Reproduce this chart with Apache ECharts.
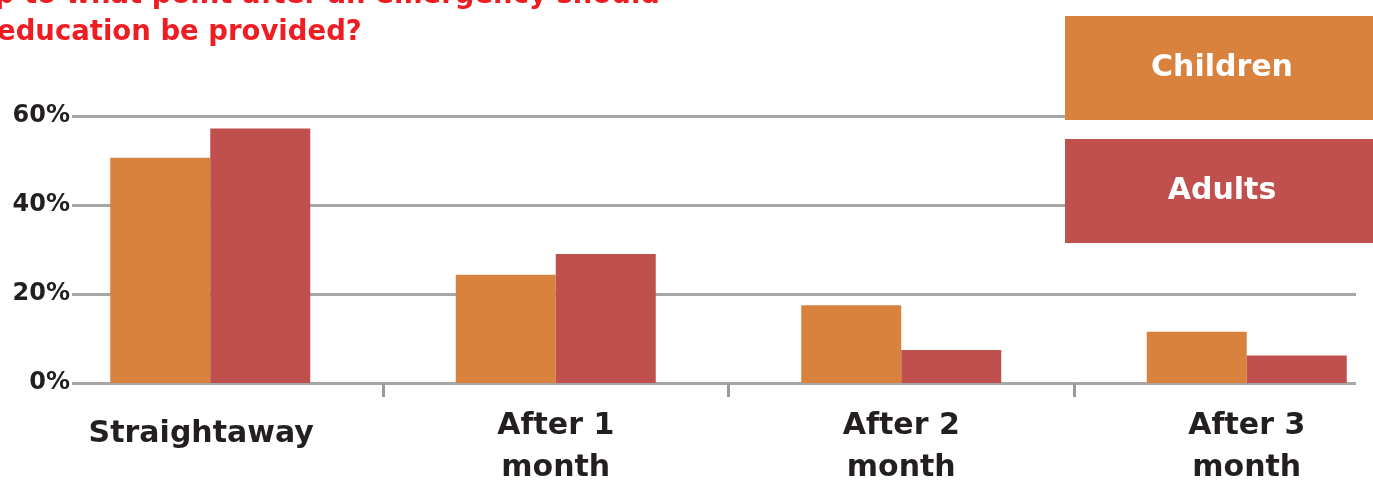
<!DOCTYPE html>
<html>
<head>
<meta charset="utf-8">
<script src="https://cdn.jsdelivr.net/npm/echarts@6/dist/echarts.min.js"></script>
<style>
html,body{margin:0;padding:0;background:#fff;}
#chart{width:1373px;height:480px;}
</style>
</head>
<body>
<div id="chart"></div>
<script>
var categories = ['Straightaway', 'After 1\nmonth', 'After 2\nmonth', 'After 3\nmonth'];
var seriesNames = ['Children', 'Adults'];
var childrenValues = [50.6, 24.3, 17.5, 11.5];
var adultsValues = [57.2, 29.0, 7.4, 6.2];
var yTicks = [0, 20, 40, 60];
var titleLines = ['Up to what point after an emergency should', 'education be provided?'];

var ORANGE = '#D9823E';
var RED = '#C0504D';
var FONT = 'DejaVu Sans';

var chart = echarts.init(document.getElementById('chart'));
var colors = [ORANGE, RED];

var legendGraphics = [];
seriesNames.forEach(function (name, i) {
  legendGraphics.push({
    type: 'rect', z: 100, zlevel: 0,
    shape: { x: 1065, y: 16 + i * 123, width: 320, height: 104 },
    style: { fill: colors[i] }
  });
  legendGraphics.push({
    type: 'text', z: 101, zlevel: 0, x: 1222, y: 68 + i * 123,
    style: { text: name, fill: '#fff', font: 'bold 30px "DejaVu Sans"', textAlign: 'center', textVerticalAlign: 'middle' }
  });
});

var option = {
  animation: false,
  backgroundColor: '#fff',
  title: [
    { text: titleLines[0], right: 1373 - 660, top: -22, padding: 0,
      textStyle: { color: '#EE1D23', fontFamily: FONT, fontWeight: 'bold', fontSize: 27.5, lineHeight: 36 } },
    { text: titleLines[1], left: -3, top: 15, padding: 0,
      textStyle: { color: '#EE1D23', fontFamily: FONT, fontWeight: 'bold', fontSize: 27.5, lineHeight: 36 } }
  ],
  graphic: legendGraphics,
  grid: [
    { left: 37.5, top: 116, width: 1382, height: 267, outerBoundsMode: 'none', containLabel: false },
    { left: 72, top: 116, right: 17, height: 267, outerBoundsMode: 'none', containLabel: false }
  ],
  xAxis: [
    {
      type: 'category', gridIndex: 0, data: categories,
      axisLine: { show: false },
      axisTick: { show: true, length: 14, interval: function (i) { return i > 0; },
        lineStyle: { color: '#9a9a9a', width: 3 } },
      axisLabel: {
        interval: 0, margin: 22, color: '#231f20', fontFamily: FONT, fontWeight: 'bold', fontSize: 30, lineHeight: 42,
        formatter: function (v) {
          return v.indexOf('\n') < 0 ? '{s|' + v + '}' : v;
        },
        rich: { s: { fontFamily: FONT, fontWeight: 'bold', fontSize: 30, lineHeight: 58, color: '#231f20', padding: [0, 18, 0, 0] } }
      },
      splitLine: { show: false }
    },
    { type: 'value', gridIndex: 1, show: false, min: 0, max: 1 }
  ],
  yAxis: [
    { type: 'value', gridIndex: 0, min: 0, max: 60, interval: 20, show: false },
    {
      type: 'value', gridIndex: 1, min: yTicks[0], max: yTicks[yTicks.length - 1], interval: 20,
      axisLine: { show: false }, axisTick: { show: false },
      axisLabel: { margin: 2, color: '#231f20', fontFamily: FONT, fontWeight: 'bold', fontSize: 24, formatter: '{value}%', padding: [5, 0, 0, 0] },
      splitLine: { show: true, lineStyle: { color: '#a6a6a6', width: 3 } }
    }
  ],
  series: [
    { name: seriesNames[0], type: 'bar', xAxisIndex: 0, yAxisIndex: 0, data: childrenValues,
      barWidth: 100, barGap: '0%', itemStyle: { color: ORANGE }, z: 3 },
    { name: seriesNames[1], type: 'bar', xAxisIndex: 0, yAxisIndex: 0, data: adultsValues,
      barWidth: 100, barGap: '0%', itemStyle: { color: RED }, z: 3 }
  ]
};
chart.setOption(option);
</script>
</body>
</html>
